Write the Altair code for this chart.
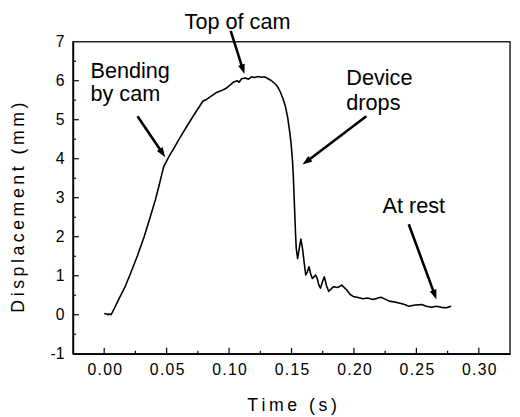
import math
import altair as alt
import pandas as pd

# ---- curve data ----
time_s = [
    0.000, 0.002, 0.003, 0.004, 0.0055, 0.0065, 0.0084, 0.012, 0.0162, 0.021,
    0.0267, 0.032, 0.0371, 0.041, 0.0437, 0.0476, 0.0516, 0.056, 0.0607, 0.066,
    0.0712, 0.0755, 0.0791, 0.082, 0.0845, 0.0869, 0.090, 0.0935, 0.0973, 0.1005,
    0.1038, 0.1065, 0.108, 0.110, 0.113, 0.1155, 0.118, 0.1205, 0.1235, 0.126,
    0.1285, 0.1313, 0.134, 0.1379, 0.1405, 0.1431, 0.1452, 0.147, 0.1485, 0.1497,
    0.1508, 0.1515, 0.152, 0.1526, 0.1532, 0.1538, 0.1549, 0.1562, 0.1575, 0.1588,
    0.1601, 0.1614, 0.1627, 0.164, 0.1653, 0.1667, 0.1693, 0.1706, 0.1719, 0.1732,
    0.1748, 0.1763, 0.178, 0.1797, 0.1837, 0.187, 0.1902, 0.1941, 0.197, 0.1994,
    0.2035, 0.2072, 0.211, 0.2151, 0.2185, 0.2216, 0.225, 0.2282, 0.232, 0.236,
    0.240, 0.2439, 0.249, 0.2543, 0.258, 0.2622, 0.266, 0.270, 0.274, 0.2779,
]
disp_mm = [
    0.03, 0.02, 0.00, 0.02, 0.00, 0.06, 0.18, 0.42, 0.68, 1.05,
    1.52, 2.00, 2.53, 2.95, 3.28, 3.79, 4.04, 4.28, 4.54, 4.82,
    5.09, 5.30, 5.48, 5.52, 5.58, 5.63, 5.70, 5.74, 5.80, 5.88,
    5.97, 6.00, 5.96, 6.05, 6.07, 6.04, 6.10, 6.08, 6.11, 6.09,
    6.10, 6.05, 6.00, 5.89, 5.75, 5.55, 5.33, 5.05, 4.70, 4.38,
    3.95, 3.53, 3.10, 2.60, 2.10, 1.70, 1.44, 1.70, 1.94, 1.70,
    1.35, 1.02, 1.10, 1.23, 1.05, 0.93, 1.02, 0.93, 0.76, 0.68,
    0.85, 0.97, 0.75, 0.60, 0.72, 0.70, 0.76, 0.64, 0.52, 0.47,
    0.44, 0.41, 0.43, 0.39, 0.42, 0.45, 0.40, 0.35, 0.33, 0.30,
    0.27, 0.22, 0.25, 0.26, 0.22, 0.19, 0.22, 0.19, 0.18, 0.22,
]

# ---- axis ticks ----
x_labels = [0.00, 0.05, 0.10, 0.15, 0.20, 0.25, 0.30]
x_minor = [0.025, 0.075, 0.125, 0.175, 0.225, 0.275]
y_labels = [-1, 0, 1, 2, 3, 4, 5, 6, 7]
y_major_inner = [0, 1, 2, 3, 4, 5, 6]
y_minor = [-0.5, 0.5, 1.5, 2.5, 3.5, 4.5, 5.5, 6.5]

# ---- annotations ----
ann_text = ["Top of cam", "Bending", "by cam", "Device", "drops", "At rest"]
ann_t = [0.0644, -0.011, -0.011, 0.1939, 0.1939, 0.2229]
ann_d = [7.33, 6.07, 5.47, 5.89, 5.25, 2.62]

arrow_t0 = [0.1013, 0.0267, 0.2099, 0.2439]
arrow_d0 = [7.28, 5.09, 5.09, 2.32]
arrow_t1 = [0.1123, 0.0489, 0.1588, 0.2661]
arrow_d1 = [6.17, 4.04, 3.85, 0.39]

W, H = 444, 317
X_DOM = [-0.025, 0.325]
Y_DOM = [-1, 7]
FONT = "Liberation Sans"

sx = W / (X_DOM[1] - X_DOM[0])
sy = H / (Y_DOM[1] - Y_DOM[0])

# arrow geometry: shaft shortened so the head covers its end
HEAD_LEN = 10.0
shaft_t1, shaft_d1, angles = [], [], []
for t0, d0, t1, d1 in zip(arrow_t0, arrow_d0, arrow_t1, arrow_d1):
    dx = (t1 - t0) * sx
    dy = -(d1 - d0) * sy
    L = math.hypot(dx, dy)
    ux, uy = dx / L, dy / L
    back = HEAD_LEN * 0.7
    shaft_t1.append(t1 - ux * back / sx)
    shaft_d1.append(d1 + uy * back / sy)
    angles.append(math.degrees(math.atan2(dx, -dy)) % 360)

xs = alt.Scale(domain=X_DOM, nice=False, zero=False)
ys = alt.Scale(domain=Y_DOM, nice=False, zero=False)

hs = "\u200a"
ts = "\u2009"

x_axis = alt.Axis(
    values=x_labels, format=".2f",
    labelExpr="join(split(datum.label, ''), '" + hs + "')",
    ticks=False, grid=False, domainColor="black", domainWidth=1.5,
    labelFont=FONT, labelFontSize=16, labelColor="black", labelPadding=8,
    labelFlush=False,
    title=ts.join("Time (s)"), titleFont=FONT, titleFontSize=18,
    titleFontWeight="normal", titleColor="black",
    titleY=58, titleBaseline="alphabetic",
)
y_axis = alt.Axis(
    values=y_labels, labelExpr="'' + datum.value",
    ticks=False, grid=False, domainColor="black", domainWidth=1.5,
    labelFont=FONT, labelFontSize=16, labelColor="black", labelPadding=9,
    labelFlush=False,
    title=ts.join("Displacement (mm)"), titleFont=FONT, titleFontSize=18,
    titleFontWeight="normal", titleColor="black",
    titleX=-55, titleY=168, titleAngle=270, titleBaseline="middle",
    titleAlign="center",
)

X = lambda f: alt.X(f, scale=xs, axis=x_axis)
Y = lambda f: alt.Y(f, scale=ys, axis=y_axis)

curve = alt.Chart(pd.DataFrame({"t": time_s, "d": disp_mm})).mark_line(
    color="black", strokeWidth=1.6, strokeJoin="round"
).encode(x=X("t:Q"), y=Y("d:Q"))

def xticks(vals, length):
    return alt.Chart(pd.DataFrame({"t": vals})).mark_rule(
        color="black", strokeWidth=1.2
    ).encode(x=X("t:Q"), y=alt.value(H), y2=alt.value(H - length))

def yticks(vals, length):
    return alt.Chart(pd.DataFrame({"d": vals})).mark_rule(
        color="black", strokeWidth=1.2
    ).encode(y=Y("d:Q"), x=alt.value(0), x2=alt.value(length))

texts = alt.Chart(pd.DataFrame({"t": ann_t, "d": ann_d, "label": ann_text})).mark_text(
    align="left", baseline="alphabetic", font=FONT, fontSize=22, color="black"
).encode(x=X("t:Q"), y=Y("d:Q"), text="label:N")

shafts = alt.Chart(pd.DataFrame({
    "t": arrow_t0, "d": arrow_d0, "t2": shaft_t1, "d2": shaft_d1
})).mark_rule(color="black", strokeWidth=2.6).encode(
    x=X("t:Q"), y=Y("d:Q"), x2="t2:Q", y2="d2:Q",
)

heads = alt.Chart(pd.DataFrame({
    "t": arrow_t1, "d": arrow_d1, "ang": angles
})).mark_point(
    shape="M0,0L0.7,2L-0.7,2Z", filled=True, size=100, color="black",
    opacity=1, strokeWidth=0
).encode(x=X("t:Q"), y=Y("d:Q"), angle=alt.Angle("ang:Q", scale=None))

chart = alt.layer(
    curve,
    xticks(x_labels, 6), xticks(x_minor, 3),
    yticks(y_major_inner, 6), yticks(y_minor, 3),
    shafts, heads, texts,
).properties(
    width=W, height=H,
    autosize=alt.AutoSizeParams(type="none"),
    padding={"left": 66, "top": 31, "right": 2, "bottom": 61},
).configure_view(stroke="#222", strokeWidth=1.5)

chart.save("out.html", embed_options={"renderer": "svg", "actions": False})
